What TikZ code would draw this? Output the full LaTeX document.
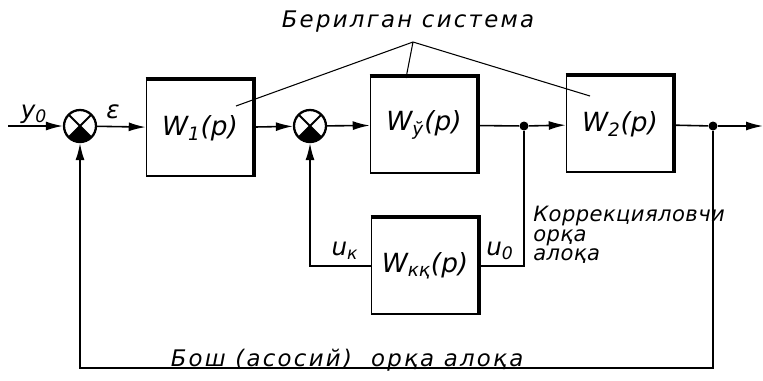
\documentclass[tikz,border=0pt]{standalone}
\usepackage{fontspec}
\setmainfont{DejaVu Sans}
\newfontfamily\lettering[LetterSpace=10]{DejaVu Sans}
\newfontfamily\narrowlettering[LetterSpace=2]{DejaVu Sans}
\usetikzlibrary{positioning, calc, arrows.meta}

\tikzset{
  blockbox/.style={draw, line width=0.9pt, minimum width=2.14cm, minimum height=1.92cm,
    font=\itshape\fontsize{15}{17}\selectfont},
  sumnode/.style={circle, draw, line width=1.3pt, minimum size=0.64cm, inner sep=0pt,
    path picture={
      \fill (path picture bounding box.center) -- (path picture bounding box.south east)
        -- (path picture bounding box.south west) -- cycle;
      \draw[line width=1.1pt] (path picture bounding box.north west) -- (path picture bounding box.south east)
        (path picture bounding box.north east) -- (path picture bounding box.south west);
    }},
  junction/.style={circle, fill, inner sep=0pt, minimum size=0.18cm},
  wire/.style={line width=0.9pt},
  flow/.style={wire, -{Latex[length=3.4mm,width=1.8mm]}},
  pointer/.style={line width=0.6pt},
  caption/.style={font=\lettering\itshape\fontsize{13}{13}\selectfont},
  sig/.style={font=\itshape\fontsize{14}{14}\selectfont}
}

\begin{document}
\begin{tikzpicture}[x=0.02cm, y=-0.02cm]
    \useasboundingbox (0,0) rectangle (763,380);

    % Main path
    \coordinate (yin) at (8,126);
    \node[sumnode] (sum1) at (80,126) {};
    \node[blockbox] (w1) at (200,128) {W\textsubscript{1}(p)};
    \node[sumnode] (sum2) at (310,126) {};
    \node[blockbox] (wu) at (424,125) {W\textsubscript{ў}(p)};
    \node[junction] (j1) at (524,126) {};
    \node[blockbox] (w2) at (620,124) {W\textsubscript{2}(p)};
    \node[junction] (j2) at (713,126) {};
    \coordinate (yout) at (763,126);

    % Corrective block
    \node[blockbox] (wkk) at (425,266) {W\textsubscript{кқ}(p)};

    % Heavy top and right edges
    \foreach \b in {w1,wu,w2,wkk}
        \draw[line width=2.4pt] (\b.north west) -- (\b.north east) -- (\b.south east);

    % Signal lines
    \draw[flow] (yin) -- (sum1);
    \draw[flow] (sum1) -- (w1);
    \draw[flow] (w1) -- (sum2);
    \draw[flow] (sum2) -- (wu);
    \draw[wire] (wu) -- (j1);
    \draw[flow] (j1) -- (w2);
    \draw[wire] (w2) -- (j2);
    \draw[flow] (j2) -- (yout);

    % Corrective feedback
    \draw[wire] (j1) |- (wkk.east);
    \draw[flow] (wkk.west) -| (sum2);

    % Main feedback
    \coordinate (fbl) at (80,368);
    \draw[flow] (j2) |- (fbl) -- (sum1);

    % Signal labels
    \node[sig] (ylab) at (34,114) {y\textsubscript{0}};
    \node[sig] (elab) at (113,112) {ε};
    \node[sig] (uklab) at (345,251) {u\textsubscript{к}};
    \node[sig] (uolab) at (500,251) {u\textsubscript{0}};

    % Given system
    \node[caption] (given) at (408,22) {Берилган система};
    \coordinate (apex) at (413,42);
    \coordinate (t1) at (236,106);
    \coordinate (t2) at (406,78);
    \coordinate (t3) at (590,96);
    \foreach \t in {t1,t2,t3}
        \draw[pointer] (apex) -- (\t);

    % Feedback captions
    \node[anchor=north west, align=left, inner sep=0pt, font=\narrowlettering\itshape\fontsize{12}{11}\selectfont]
        (corr) at (533,206) {Коррекцияловчи\\ орқа\\ алоқа};
    \node[caption] (mainfb) at (347,360) {Бош (асосий)\ \ орқа алоқа};
\end{tikzpicture}
\end{document}
